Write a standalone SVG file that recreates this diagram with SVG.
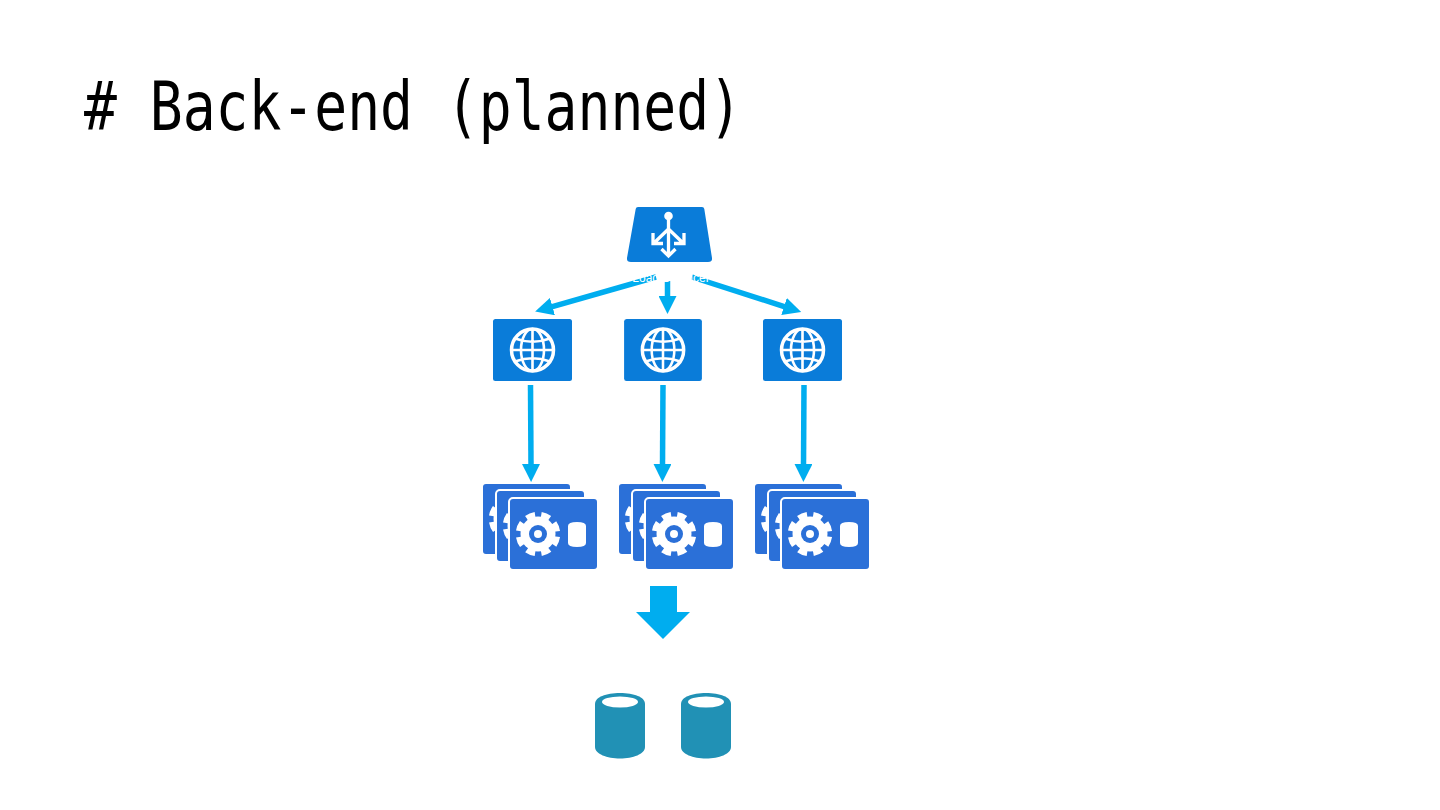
<svg xmlns="http://www.w3.org/2000/svg" width="1440" height="810" viewBox="0 0 1440 810">
<style>
.title{font-family:"DejaVu Sans Mono","Liberation Mono",monospace;font-size:68px;fill:#000}
.box{fill:#0a7cd9}
.card{fill:#2b70d8;stroke:#fff;stroke-width:2}
.ring{fill:none;stroke:#fff;stroke-width:3.500}
.grid{fill:none;stroke:#fff;stroke-width:2.600}
.flow{fill:none;stroke:#00adef;stroke-width:5.500;marker-end:url(#head)}
.db{fill:#2191b5}
.lbl{font-family:"Liberation Sans",Arial,sans-serif;font-size:12px;fill:#fff}
</style>
<defs>
<marker id="head" markerUnits="userSpaceOnUse" markerWidth="20" markerHeight="18" refX="1" refY="9" orient="auto"><path d="M0 0L18 9L0 18Z" fill="#00adef"/></marker>
<g id="globe">
<rect x="-39.500" y="-31" width="79" height="62" rx="2.500" class="box"/>
<circle r="21" class="ring"/>
<ellipse rx="11.500" ry="21" class="grid"/>
<path d="M0-21V21M-21 0H21M-17.500-11.500Q0-5 17.500-11.500M-17.500 11.500Q0 5 17.500 11.500" class="grid"/>
</g>
<g id="card">
<rect width="89" height="72" rx="4" class="card"/>
<g transform="translate(29 36)">
<circle r="17.500" fill="#fff"/>
<circle r="19" fill="none" stroke="#fff" stroke-width="6.500" stroke-dasharray="8.800 6.120" transform="rotate(8)"/>
<circle r="9" fill="#2b70d8"/><circle r="4" fill="#fff"/>
</g>
<path d="M59 28q0-4 9-4t9 4v17q0 4-9 4t-9-4Z" fill="#fff"/>
</g>
<g id="stack">
<use href="#card" x="0" y="0"/><use href="#card" x="14" y="7"/><use href="#card" x="27" y="15"/>
</g>
<g id="cyl">
<path d="M0 11C0 4 11 0 25 0S50 4 50 11V54C50 61 38 65.500 25 65.500S0 61 0 54Z" class="db"/>
<ellipse cx="25" cy="9" rx="18" ry="5.500" fill="#fff"/>
</g>
</defs>
<text class="title" x="84" y="130" textLength="658" lengthAdjust="spacingAndGlyphs">#&#160;Back-end&#160;(planned)</text>
<g id="connectors">
<path class="flow" d="M656 277L551.500 306.800"/>
<path class="flow" d="M667.500 281V297"/>
<path class="flow" d="M692 277L785 306.800"/>
<path class="flow" d="M530.500 385L531 465"/>
<path class="flow" d="M663 385L662.500 465"/>
<path class="flow" d="M804 385L803.500 465"/>
<path d="M650 586H677V612H690L663 639L636 612H650Z" fill="#00adef"/>
</g>
<g id="balancer">
<path d="M638 207H702Q704 207 704.300 209L712 258Q712.500 262 708 262H631Q626.500 262 627 258L635.700 209Q636 207 638 207Z" class="box"/>
<circle cx="668.500" cy="216" r="4.300" fill="#fff"/>
<path d="M668.500 217V255.500M668.500 229L654 243M668.500 229L683 243M653 233V243.500H663M684 233V243.500H674M661.500 249L668.500 256L675.500 249" fill="none" stroke="#fff" stroke-width="3.300"/>
<text class="lbl" x="671" y="282" text-anchor="middle">Load Balancer</text>
</g>
<g id="web1"><use href="#globe" x="532.500" y="350"/></g>
<g id="web2"><use href="#globe" transform="translate(663 350) scale(.985 1)"/></g>
<g id="web3"><use href="#globe" x="802.500" y="350"/></g>
<g id="app1"><use href="#stack" x="482" y="483"/></g>
<g id="app2"><use href="#stack" x="618" y="483"/></g>
<g id="app3"><use href="#stack" x="754" y="483"/></g>
<g id="db1"><use href="#cyl" x="595" y="693"/></g>
<g id="db2"><use href="#cyl" x="681" y="693"/></g>
</svg>
